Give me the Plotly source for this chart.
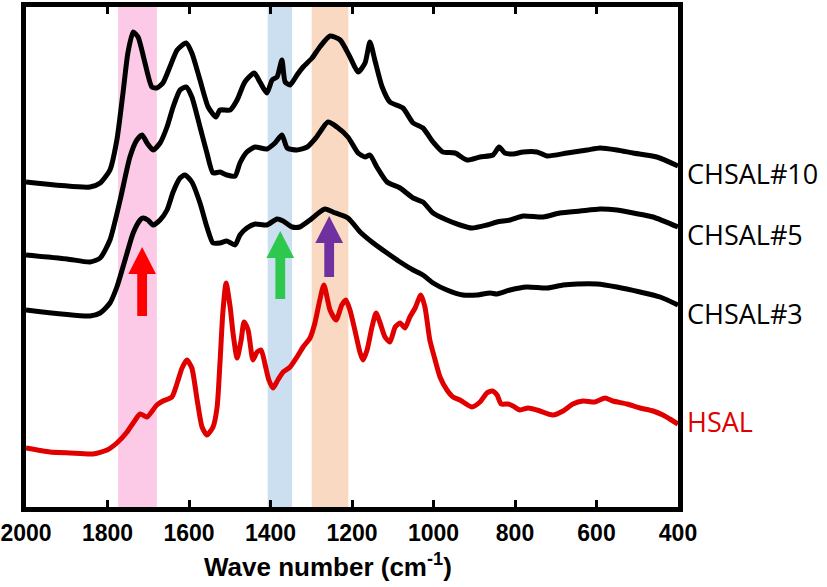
import plotly.graph_objects as go

# ---------------- data ----------------
wn_ch10 = [2000, 1843, 1818, 1794, 1777, 1762, 1750, 1737, 1725, 1708, 1691, 1679, 1664, 1647, 1629, 1607,
           1593, 1573, 1553, 1534, 1524, 1499, 1482, 1463, 1440, 1426, 1409, 1396, 1384, 1372, 1364, 1352,
           1335, 1320, 1298, 1279, 1254, 1229, 1205, 1185, 1168, 1156, 1144, 1126, 1107, 1075, 1050, 1026,
           1001, 977, 947, 918, 886, 854, 839, 825, 805, 780, 746, 721, 672, 623, 591, 550, 510, 452, 400]
ab_ch10 = [325, 320, 324, 337, 367, 414, 454, 475, 470, 444, 420, 419, 424, 440, 457, 464,
           454, 427, 400, 390, 397, 397, 407, 425, 434, 425, 414, 427, 430, 447, 425, 422,
           432, 440, 449, 460, 471, 467, 450, 435, 444, 465, 447, 420, 405, 399, 384, 379,
           365, 355, 354, 347, 350, 352, 360, 354, 353, 355, 355, 351, 354, 357, 359, 357, 354, 350, 341]

wn_ch5 = [2000, 1899, 1843, 1818, 1794, 1769, 1745, 1728, 1715, 1703, 1688, 1671, 1654, 1639, 1622, 1607,
          1593, 1573, 1556, 1541, 1524, 1507, 1487, 1475, 1458, 1438, 1409, 1389, 1372, 1359, 1335, 1310,
          1287, 1259, 1237, 1210, 1185, 1168, 1156, 1139, 1114, 1082, 1050, 1026, 1001, 967, 935, 906,
          869, 844, 812, 780, 731, 690, 640, 591, 550, 510, 461, 400]
ab_ch5 = [252, 248, 245, 249, 267, 307, 350, 367, 372, 364, 357, 364, 380, 400, 417, 420,
          410, 380, 354, 334, 335, 332, 331, 344, 355, 360, 358, 364, 372, 359, 357, 360,
          370, 385, 380, 370, 354, 350, 352, 340, 325, 319, 309, 305, 294, 287, 282, 279,
          282, 285, 287, 291, 290, 294, 296, 298, 297, 294, 290, 280]

wn_ch3 = [2000, 1843, 1818, 1794, 1777, 1757, 1737, 1720, 1713, 1701, 1688, 1671, 1654, 1639, 1622, 1610,
          1593, 1573, 1556, 1541, 1524, 1507, 1487, 1475, 1458, 1438, 1409, 1384, 1369, 1347, 1328, 1303,
          1279, 1266, 1247, 1210, 1180, 1148, 1114, 1082, 1050, 1026, 1001, 967, 928, 893, 861, 844,
          812, 771, 721, 682, 648, 599, 550, 493, 444, 400]
ab_ch3 = [197, 191, 194, 204, 220, 247, 274, 287, 289, 287, 282, 287, 297, 315, 329, 332,
          325, 304, 280, 264, 264, 266, 262, 272, 279, 283, 282, 288, 286, 280, 280, 287,
          295, 298, 295, 289, 275, 264, 254, 245, 237, 232, 224, 217, 212, 212, 214, 213,
          217, 220, 219, 222, 223, 223, 220, 215, 210, 202]

wn_hsal = [2000, 1941, 1892, 1836, 1801, 1777, 1752, 1737, 1720, 1703, 1679, 1664, 1642, 1629, 1617, 1605,
           1593, 1580, 1568, 1556, 1541, 1531, 1524, 1517, 1509, 1499, 1492, 1482, 1472, 1465, 1455, 1443,
           1433, 1423, 1413, 1404, 1394, 1382, 1369, 1352, 1335, 1320, 1303, 1291, 1279, 1269, 1254, 1239,
           1225, 1215, 1205, 1193, 1180, 1173, 1163, 1151, 1141, 1131, 1119, 1107, 1094, 1082, 1070, 1058,
           1045, 1031, 1021, 1009, 996, 984, 967, 952, 935, 906, 886, 869, 856, 844, 834, 817,
           805, 788, 768, 746, 707, 682, 658, 633, 604, 579, 560, 525, 493, 461, 437, 420, 400]
ab_hsal = [59, 55, 54, 53, 57, 64, 75, 84, 93, 90, 102, 106, 110, 124, 139, 147,
           139, 107, 80, 72, 80, 100, 144, 194, 224, 200, 174, 149, 167, 185, 177, 147,
           155, 157, 142, 127, 119, 127, 135, 140, 150, 160, 169, 184, 207, 222, 197, 187,
           202, 207, 197, 177, 154, 147, 157, 180, 194, 184, 170, 165, 180, 184, 179, 190,
           199, 212, 200, 167, 147, 130, 117, 110, 107, 100, 105, 114, 116, 112, 103, 103,
           101, 97, 99, 97, 92, 96, 103, 106, 105, 109, 106, 103, 99, 96, 92, 88, 83]

series_names = ["CHSAL#10", "CHSAL#5", "CHSAL#3", "HSAL"]
series_colors = ["#000000", "#000000", "#000000", "#E00000"]
label_y = [334, 273, 194, 86]

band_lo = [1679, 1347, 1209]
band_hi = [1774, 1407, 1299]
band_colors = ["#FCCAE6", "#CCDFF1", "#F9D9C2"]

arrow_x = [1715, 1376, 1256]
arrow_tip = [260, 276, 291]
arrow_tail = [191, 208, 230]
arrow_colors = ["#FF0000", "#2EC84F", "#7030A0"]

x_ticks = [2000, 1800, 1600, 1400, 1200, 1000, 800, 600, 400]

# ---------------- figure ----------------
fig = go.Figure()
series = [(wn_ch10, ab_ch10), (wn_ch5, ab_ch5), (wn_ch3, ab_ch3), (wn_hsal, ab_hsal)]
for (xs, ys), name, col in zip(series, series_names, series_colors):
    fig.add_trace(go.Scatter(x=xs, y=ys, mode="lines", name=name,
                             line=dict(color=col, width=5, shape="spline", smoothing=0.6),
                             showlegend=False, hoverinfo="skip"))

shapes = []
for lo, hi, col in zip(band_lo, band_hi, band_colors):
    shapes.append(dict(type="rect", xref="x", yref="paper", x0=lo, x1=hi, y0=0, y1=1,
                       fillcolor=col, line=dict(width=0), layer="below"))

head_half = 34   # half head width, wavenumber units
shaft_half = 12  # half shaft width
head_len = 27    # head length, y units
for xc, tip, tail, col in zip(arrow_x, arrow_tip, arrow_tail, arrow_colors):
    base = tip - head_len
    path = (f"M {xc - shaft_half},{tail} L {xc - shaft_half},{base} L {xc - head_half},{base} "
            f"L {xc},{tip} L {xc + head_half},{base} L {xc + shaft_half},{base} "
            f"L {xc + shaft_half},{tail} Z")
    shapes.append(dict(type="path", xref="x", yref="y", path=path, fillcolor=col,
                       line=dict(width=0), layer="above"))

annotations = []
for name, col, yv in zip(series_names, series_colors, label_y):
    annotations.append(dict(xref="paper", yref="y", x=1, y=yv, xanchor="left", yanchor="middle",
                            xshift=7, text=name, showarrow=False,
                            font=dict(family="Open Sans", size=27, color=col)))
annotations.append(dict(xref="paper", yref="paper", x=0.463, y=-0.118, xanchor="center",
                        yanchor="middle", showarrow=False,
                        text="<b>Wave number (cm<sup>-1</sup>)</b>",
                        font=dict(family="Liberation Sans", size=26, color="black")))

fig.update_layout(
    width=827, height=587,
    margin=dict(l=26, r=149, t=7, b=80, autoexpand=False),
    paper_bgcolor="white", plot_bgcolor="white",
    shapes=shapes, annotations=annotations,
    xaxis=dict(range=[2000, 400], tickvals=x_ticks, ticktext=[f"<b>{v}</b>" for v in x_ticks],
               ticks="inside", ticklen=7, tickwidth=2.5, tickcolor="black",
               showline=True, linewidth=5, linecolor="black", mirror="ticks",
               showgrid=False, zeroline=False, automargin=False,
               ticklabeloverflow="allow",
               tickfont=dict(family="Liberation Sans", size=23, color="black"),
               ticklabelstandoff=1),
    yaxis=dict(range=[0, 500], showticklabels=False, ticks="", showline=True, linewidth=5,
               linecolor="black", mirror=True, showgrid=False, zeroline=False, automargin=False),
)

fig.write_html("out.html", config={"displayModeBar": False},
               post_script="document.body.style.margin='0px';")
